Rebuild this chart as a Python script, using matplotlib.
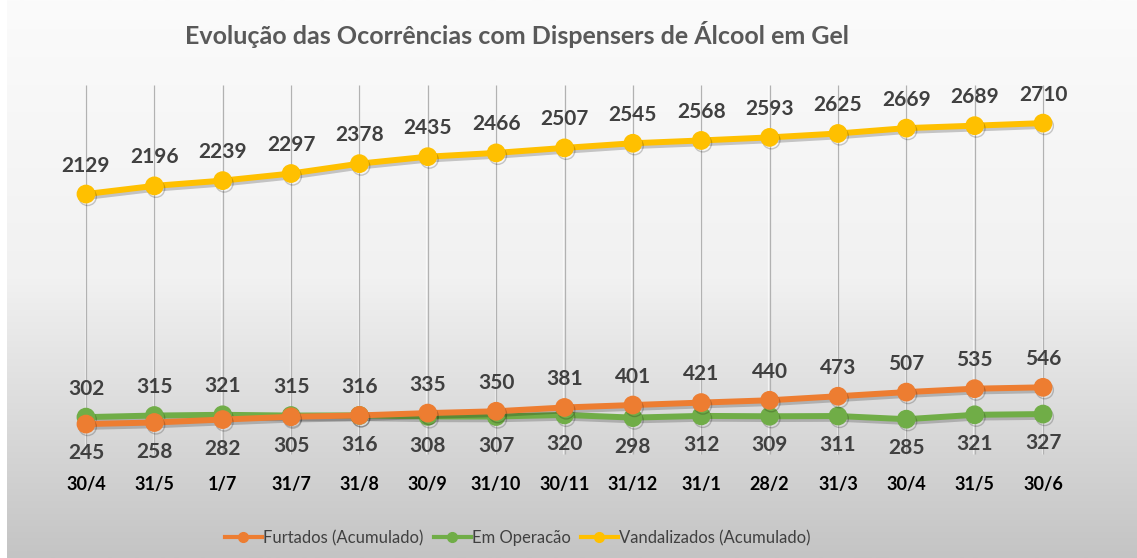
import numpy as np
import matplotlib
matplotlib.use("Agg")
import matplotlib.pyplot as plt
import matplotlib.patheffects as pe
from matplotlib.lines import Line2D
from matplotlib.colors import LinearSegmentedColormap

categories = ["30/4", "31/5", "1/7", "31/7", "31/8", "30/9", "31/10", "30/11",
              "31/12", "31/1", "28/2", "31/3", "30/4", "31/5", "30/6"]
furtados = [245, 258, 282, 305, 316, 335, 350, 381, 401, 421, 440, 473, 507, 535, 546]
em_operacao = [302, 315, 321, 315, 316, 308, 307, 320, 298, 312, 309, 311, 285, 321, 327]
vandalizados = [2129, 2196, 2239, 2297, 2378, 2435, 2466, 2507, 2545, 2568, 2593, 2625, 2669, 2689, 2710]

title = "Evolução das Ocorrências com Dispensers de Álcool em Gel"
series_names = ["Furtados (Acumulado)", "Em Operacão", "Vandalizados (Acumulado)"]
colors = ["#ED7D31", "#70AD47", "#FFC000"]

plt.rcParams['font.family'] = ['Lato', 'DejaVu Sans']

W, H = 1137, 558
fig = plt.figure(figsize=(W / 100, H / 100), dpi=100)

# gradient background
bg = fig.add_axes([7 / W, 0, 1 - 7 / W, 1], zorder=-10)
grad = np.linspace(0, 1, 256)[:, None]
cmap = LinearSegmentedColormap.from_list("bg", ["#fbfbfb", "#f1f1f1", "#c4c4c4"])
bg.imshow(grad, aspect="auto", cmap=cmap, extent=[0, 1, 0, 1], origin="upper")
bg.set_axis_off()

left = 51.8 / W
right = 1077.2 / W
y0_px = 454.0
top_px = y0_px - 3000 * 0.1221
bottom = (H - y0_px) / H
top = (H - top_px) / H
ax = fig.add_axes([left, bottom, right - left, top - bottom])
ax.set_facecolor("none")
x = np.arange(len(categories))
ax.set_xlim(-0.5, len(categories) - 0.5)
ax.set_ylim(0, 3000)
for s in ax.spines.values():
    s.set_visible(False)
ax.set_yticks([])
ax.set_xticks(x)
ax.set_xticklabels(categories, fontsize=13, fontweight="bold", color="#000000")
ax.tick_params(axis="x", length=0, pad=16)
ax.vlines(x, 0, 3020, colors="#b2b2b2", linewidth=0.9, zorder=1, clip_on=False,
          path_effects=[pe.SimpleLineShadow(offset=(-1, 0), shadow_color="#ffffff", alpha=0.6),
                        pe.Normal()])

shadow = [pe.SimpleLineShadow(offset=(1.2, -2.0), shadow_color="#000000", alpha=0.2),
          pe.Normal()]
for vals, c, z in [(vandalizados, colors[2], 4), (em_operacao, colors[1], 3), (furtados, colors[0], 4)]:
    ax.plot(x, vals, color=c, linewidth=4.3, marker="o", markersize=12.5,
            solid_capstyle="round", zorder=z, path_effects=shadow)

lab_kw = dict(textcoords="offset points", ha="center", va="center",
              fontsize=15, fontweight="bold", color="#404040", zorder=6)
for i in range(len(x)):
    ax.annotate(str(vandalizados[i]), (x[i], vandalizados[i]), xytext=(0, 20.5), **lab_kw)
    hi = max(furtados[i], em_operacao[i])
    lo = min(furtados[i], em_operacao[i])
    ax.annotate(str(hi), (x[i], hi), xytext=(0, 20.5), **lab_kw)
    ax.annotate(str(lo), (x[i], lo), xytext=(0, -21), **lab_kw)

fig.text(517 / W, 1 - 34 / H, title, ha="center", va="center",
         fontsize=18, fontweight="bold", color="#595959")

handles = [Line2D([0], [0], color=c, linewidth=3, marker="o", markersize=7)
           for c in colors]
fig.legend(handles, series_names, loc="center", bbox_to_anchor=(518 / W, 1 - 538 / H),
           ncol=3, frameon=False, fontsize=12, labelcolor="#404040",
           handlelength=2.2, handletextpad=0.1, columnspacing=0.6)

fig.savefig("out.png", dpi=100)
